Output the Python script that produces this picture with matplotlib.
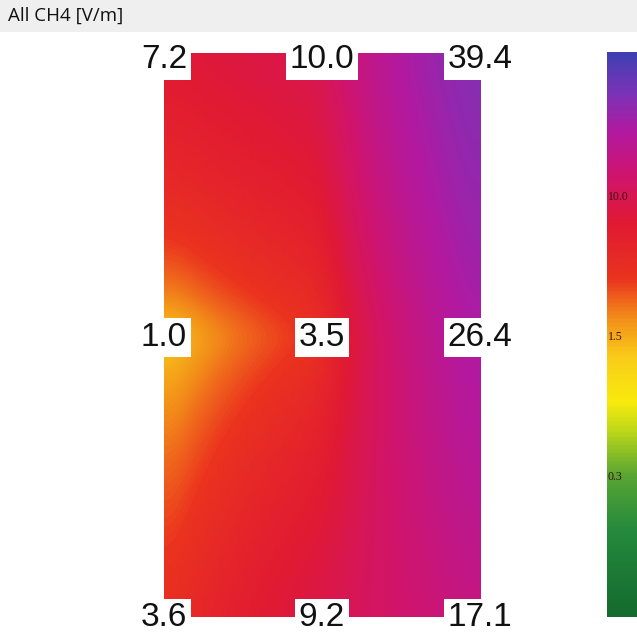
import numpy as np
import matplotlib.pyplot as plt
from matplotlib.colors import LinearSegmentedColormap

title = 'All CH4 [V/m]'

# measured field strength, 3x3 points, left->right
row_top = [7.2, 10.0, 39.4]
row_mid = [1.0, 3.5, 26.4]
row_bot = [3.6, 9.2, 17.1]

# colour scale (log-ish, piecewise) and the labels on the bar
scale_vals = [0.06, 0.3, 1.5, 10.0, 70.0]
scale_pos = [0.0, 0.248, 0.496, 0.743, 1.0]
bar_labels = ['10.0', '1.5', '0.3']

cmap = LinearSegmentedColormap.from_list('field', [
    (0.00, (0.08, 0.42, 0.18)),
    (0.15, (0.14, 0.54, 0.24)),
    (0.25, (0.35, 0.65, 0.20)),
    (0.33, (0.75, 0.85, 0.10)),
    (0.38, (0.98, 0.92, 0.05)),
    (0.46, (0.98, 0.80, 0.10)),
    (0.53, (0.95, 0.55, 0.10)),
    (0.60, (0.92, 0.20, 0.12)),
    (0.70, (0.88, 0.10, 0.20)),
    (0.78, (0.82, 0.08, 0.42)),
    (0.86, (0.70, 0.10, 0.63)),
    (0.93, (0.48, 0.20, 0.72)),
    (1.00, (0.25, 0.25, 0.70)),
])


def to_pos(v):
    return np.interp(np.log10(v), np.log10(scale_vals), scale_pos)


def smooth(a, sigma, axis):
    # simple gaussian blur along one axis, mirrored edges
    r = int(3 * sigma)
    k = np.exp(-0.5 * (np.arange(-r, r + 1) / sigma) ** 2)
    k /= k.sum()
    pad = [(0, 0), (0, 0)]
    pad[axis] = (r, r)
    b = np.pad(a, pad, mode='reflect')
    return np.apply_along_axis(lambda v: np.convolve(v, k, mode='valid'), axis, b)


# bilinear interpolation of the values between the measuring points
grid = np.array([row_bot, row_mid, row_top])
pts = np.arange(3)
fx = np.linspace(0, 2, 316)
fy = np.linspace(0, 2, 564)
tmp = np.array([np.interp(fx, pts, r) for r in grid])
field = np.array([np.interp(fy, pts, c) for c in tmp.T]).T
img = to_pos(field)
img = smooth(smooth(img, 14, 0), 14, 1)

W = 637.0
fig = plt.figure(figsize=(6.37, 6.37), dpi=100)
fig.patch.set_facecolor('white')

# title strip
tax = fig.add_axes([0, 1 - 32 / W, 1, 32 / W])
tax.set_facecolor('#efefef')
tax.set_xticks([])
tax.set_yticks([])
for s in tax.spines.values():
    s.set_visible(False)
tax.text(8 / W, 0.5, title, transform=tax.transAxes, va='center', ha='left',
         fontsize=13.5, family='Open Sans', color='#111111')

# field map
ax = fig.add_axes([164 / W, 1 - 617 / W, 316 / W, 564 / W])
ax.imshow(img, cmap=cmap, vmin=0, vmax=1, origin='lower',
          extent=[0, 2, 0, 2], aspect='auto', interpolation='bilinear')
ax.set_xlim(0, 2)
ax.set_ylim(0, 2)
ax.axis('off')

offsets = {2: -7, 1: -2, 0: -1}
for j, row in zip([2, 1, 0], [row_top, row_mid, row_bot]):
    for i, v in enumerate(row):
        ax.annotate(f'{v:.1f}', (i, j), xytext=(0, offsets[j]), textcoords='offset pixels',
                    ha='center', va='center', fontsize=24, family='Liberation Sans',
                    color='#111111', annotation_clip=False,
                    bbox=dict(boxstyle='square,pad=0.12', fc='white', ec='none'))

# colour bar
cax = fig.add_axes([607 / W, 1 - 617 / W, 32 / W, 565 / W])
cax.imshow(np.linspace(0, 1, 400)[:, None], cmap=cmap, vmin=0, vmax=1,
           origin='lower', aspect='auto', extent=[0, 1, 0, 1])
cax.set_xlim(0, 1)
cax.set_ylim(0, 1)
cax.axis('off')
for lab in bar_labels:
    cax.text(0.02, to_pos(float(lab)), lab, ha='left', va='center', fontsize=8.5,
             family='Liberation Serif', color='#3a1010', clip_on=False)

fig.savefig('out.png', dpi=100)
